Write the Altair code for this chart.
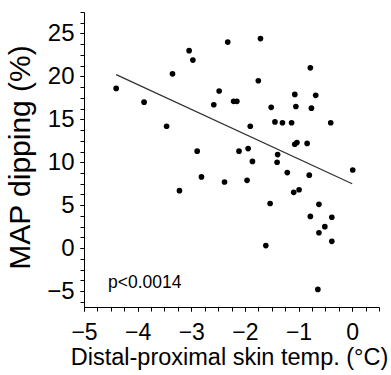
import altair as alt
import pandas as pd

# Distal-proximal skin temperature gradient (°C)
x_temp = [-4.40, -3.88, -3.35, -3.04, -2.97, -3.46, -2.58, -2.48, -2.32, -2.89,
          -1.71, -0.78, -1.75, -2.21, -2.15, -1.07, -0.68, -1.51, -1.05, -0.76,
          -1.90, -1.44, -1.30, -1.13, -0.40, -1.07, -1.03, -0.84, -2.11, -1.94,
          -1.39, -1.86, -1.40, -2.81, -2.38, -1.96, -1.21, -0.80, 0.01, -1.09,
          -0.99, -3.22, -1.53, -0.62, -0.78, -0.38, -0.51, -0.62, -0.38, -1.61,
          -0.64]
# MAP dipping (%)
y_dip = [18.6, 17.0, 20.3, 23.0, 21.9, 14.2, 16.7, 18.3, 24.0, 11.3,
         24.4, 21.0, 19.5, 17.1, 17.1, 17.9, 17.8, 16.4, 16.5, 16.3,
         14.2, 14.7, 14.6, 14.6, 14.6, 12.1, 12.3, 12.2, 11.3, 11.6,
         10.9, 10.1, 10.0, 8.3, 7.7, 7.9, 8.8, 8.5, 9.1, 6.5,
         6.8, 6.7, 5.2, 5.1, 3.7, 3.6, 2.5, 1.8, 0.8, 0.3,
         -4.8]

# regression line endpoints
fit_x = [-4.40, 0.0]
fit_y = [20.2, 7.5]

x_major = [-5, -4, -3, -2, -1, 0]
x_minor = [-5 + 0.25 * i for i in range(23)]
y_major = [-5, 0, 5, 10, 15, 20, 25]
y_minor = [-6.25 + 1.25 * i for i in range(28)]

FONT = "Liberation Sans"

pts = pd.DataFrame({"x": x_temp, "y": y_dip})
fit = pd.DataFrame({"x": fit_x, "y": fit_y})

x_scale = alt.Scale(domain=[-5, 0.5], nice=False, zero=False)
y_scale = alt.Scale(domain=[-6.85, 27.5], nice=False, zero=False)

x_axis_major = alt.Axis(
    orient="bottom",
    values=x_major,
    format="d",
    labelOverlap=False,
    labelFlush=False,
    labelFontSize=23,
    labelPadding=10,
    tickSize=4,
    grid=False,
    title="Distal-proximal skin temp. (°C)",
    titleFontSize=23.5,
    titleFontWeight="normal",
    titleAnchor="middle",
    titleX=145,
    titleY=57,
    titleBaseline="alphabetic",
)
x_axis_minor = alt.Axis(
    orient="bottom",
    values=x_minor,
    labels=False,
    tickSize=4,
    grid=False,
    domain=False,
    title=None,
)
y_axis_major = alt.Axis(
    orient="left",
    values=y_major,
    format="d",
    labelOverlap=False,
    labelFlush=False,
    labelFontSize=24,
    labelPadding=6,
    tickSize=4,
    grid=False,
    title="MAP dipping (%)",
    titleFontSize=30,
    titleFontWeight="normal",
    titleX=-55,
    titleY=145,
    titleAngle=270,
    titleBaseline="alphabetic",
)
y_axis_minor = alt.Axis(
    orient="left",
    values=y_minor,
    labels=False,
    tickSize=4,
    grid=False,
    domain=False,
    title=None,
)

points = alt.Chart(pts).mark_circle(size=32, color="black", opacity=1).encode(
    x=alt.X("x:Q", scale=x_scale, axis=x_axis_major),
    y=alt.Y("y:Q", scale=y_scale, axis=y_axis_major),
)

line = alt.Chart(fit).mark_line(color="#333333", strokeWidth=1.3).encode(
    x=alt.X("x:Q", scale=x_scale, axis=x_axis_minor),
    y=alt.Y("y:Q", scale=y_scale, axis=y_axis_minor),
)

ptext = alt.Chart(pd.DataFrame({"t": ["p<0.0014"]})).mark_text(
    font=FONT, fontSize=17.5, align="left", baseline="alphabetic", color="black"
).encode(text="t:N", x=alt.value(24), y=alt.value(276))

chart = (
    alt.layer(line, points, ptext)
    .resolve_axis(x="independent", y="independent")
    .properties(
        width=295,
        height=295,
        autosize=alt.AutoSizeParams(type="none"),
        padding={"left": 84, "top": 12, "right": 12, "bottom": 68},
        background="white",
    )
    .configure_view(stroke=None)
    .configure_axis(
        labelFont=FONT,
        titleFont=FONT,
        labelColor="black",
        titleColor="black",
        domainColor="black",
        tickColor="black",
        domainWidth=1,
        tickWidth=1,
    )
)

chart.save("out.html", embed_options={"renderer": "svg", "actions": False})
